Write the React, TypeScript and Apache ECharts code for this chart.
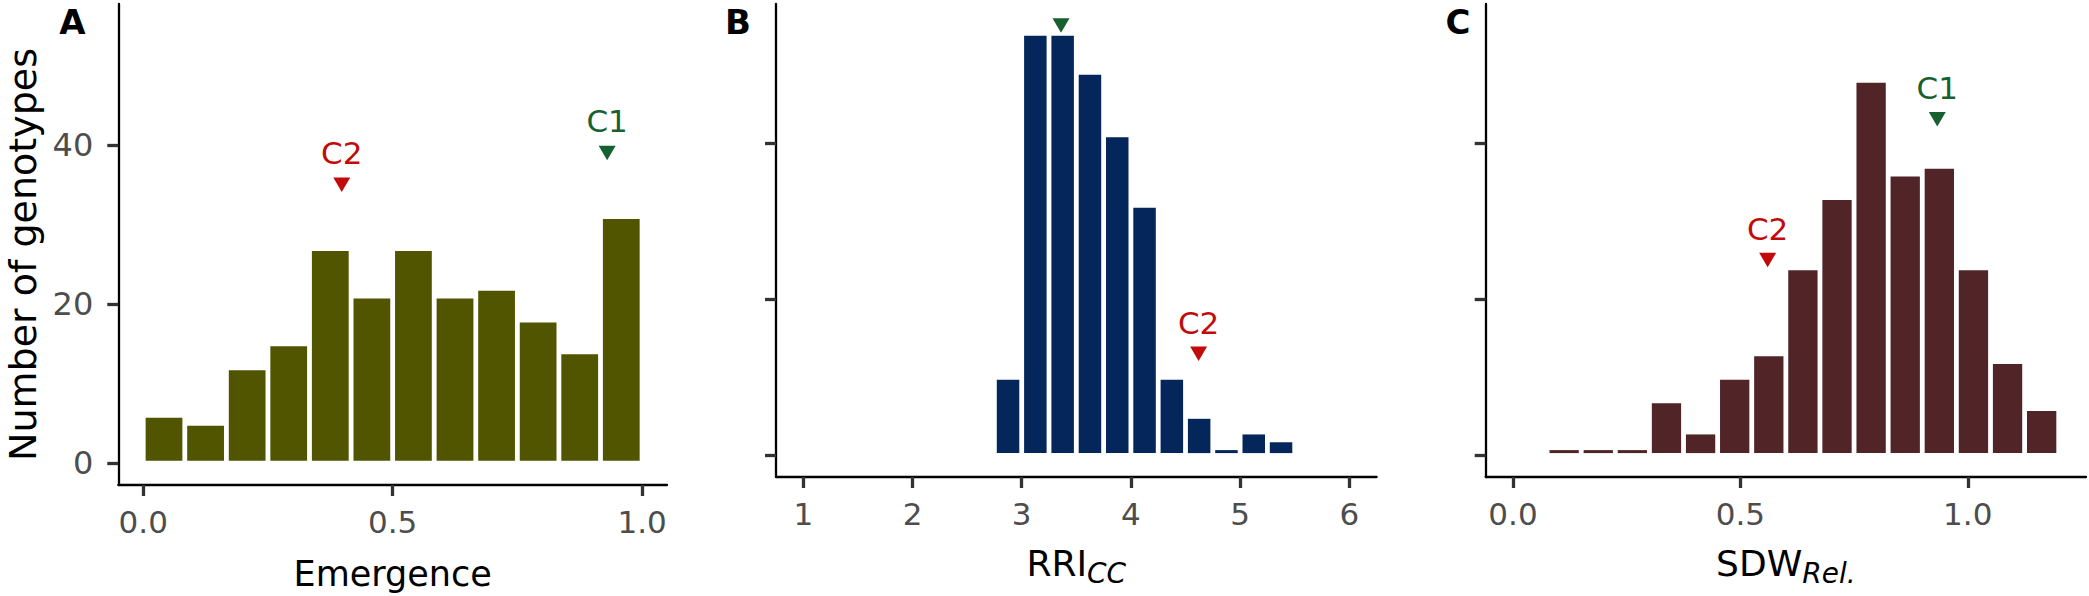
import React, { useEffect, useRef } from "react";
import * as echarts from "echarts";

// ---- data ----
const emergenceEdges = [0, 0.0833, 0.1667, 0.25, 0.3333, 0.4167, 0.5, 0.5833, 0.6667, 0.75, 0.8333, 0.9167, 1.0];
const emergenceCounts = [6, 5, 12, 15, 27, 21, 27, 21, 22, 18, 14, 31];

const rriEdges = [2.75, 3.0, 3.25, 3.5, 3.75, 4.0, 4.25, 4.5, 4.75, 5.0, 5.25, 5.5];
const rriCounts = [10, 54, 54, 49, 41, 32, 10, 5, 0, 3, 2];

const sdwEdges = [0.075, 0.15, 0.225, 0.3, 0.375, 0.45, 0.525, 0.6, 0.675, 0.75, 0.825, 0.9, 0.975, 1.05, 1.125, 1.2];
const sdwCounts = [0, 0, 0, 7, 3, 10, 13, 24, 33, 48, 36, 37, 24, 12, 6];

const markerNames = ["C1", "C2"];
const emergenceMarkers = [[0.93, 39], [0.398, 35]];
const rriMarkers = [[3.36, 55], [4.62, 13]];
const sdwMarkers = [[0.933, 43], [0.56, 25]];
const labelLift = 4;

const yTicks = [0, 20, 40];
const emergenceTicks = [0, 0.5, 1.0];
const rriTicks = [1, 2, 3, 4, 5, 6];
const sdwTicks = [0, 0.5, 1.0];
const yRange = [-2.75, 57.75];
const emergenceRange = [-0.05, 1.05];
const rriRange = [0.75, 6.25];
const sdwRange = [-0.06, 1.26];

// ---- styles ----
const FONT = "DejaVu Sans";
const markerColors = ["#17602f", "#c30a0a"];
const barColors = ["#525500", "#04265a", "#512528"];
const tickGrey = "#4d4d4d";

function histData(edges: number[], counts: number[]) {
  return counts.map((c, i) => [edges[i], edges[i + 1], c]);
}

function barSeries(idx: number, edges: number[], counts: number[], color: string) {
  return {
    type: "custom",
    xAxisIndex: idx,
    yAxisIndex: idx,
    data: histData(edges, counts),
    encode: { x: [0, 1], y: 2 },
    renderItem: (_params: any, api: any) => {
      const x0 = api.value(0);
      const x1 = api.value(1);
      const c = api.value(2);
      const pBase = api.coord([x0, 0]);
      const pTop = api.coord([x1, c]);
      const gap = 2.4;
      const left = pBase[0] + gap;
      const right = pTop[0] - gap;
      const bottom = pBase[1] - 2.4;
      let top = pTop[1] + 2.4;
      if (bottom - top < 3) top = bottom - 3;
      return {
        type: "rect",
        shape: { x: left, y: top, width: right - left, height: bottom - top },
        style: { fill: color },
      };
    },
  };
}

function markerSeries(idx: number, markers: number[][]) {
  return {
    type: "scatter",
    xAxisIndex: idx,
    yAxisIndex: idx,
    symbol: "triangle",
    symbolRotate: 180,
    symbolSize: [17, 14.5],
    clip: true,
    data: markers.map((m, i) => ({ value: m, itemStyle: { color: markerColors[i], opacity: 1 } })),
    z: 5,
  };
}

function markerLabelSeries(idx: number, markers: number[][]) {
  return {
    type: "scatter",
    xAxisIndex: idx,
    yAxisIndex: idx,
    symbolSize: 1,
    clip: true,
    itemStyle: { color: "rgba(0,0,0,0)", opacity: 1 },
    data: markers.map((m, i) => ({
      value: [m[0], m[1] + labelLift],
      name: markerNames[i],
      label: {
        show: true,
        position: "inside",
        formatter: markerNames[i],
        color: markerColors[i],
        opacity: 1,
        fontFamily: FONT,
        fontSize: 31,
      },
    })),
    z: 6,
  };
}

function xAxis(idx: number, range: number[], ticks: number[], name: any, gap: number, fmt: (v: number) => string, rich?: any) {
  return {
    type: "value",
    gridIndex: idx,
    min: range[0],
    max: range[1],
    axisLine: { show: true, onZero: false, lineStyle: { color: "#000", width: 2.3 } },
    axisTick: { show: true, customValues: ticks, length: 11, lineStyle: { color: "#333", width: 3.3 } },
    axisLabel: {
      show: true,
      customValues: ticks,
      formatter: (v: number) => fmt(v),
      margin: 21,
      color: tickGrey,
      fontFamily: FONT,
      fontSize: 31,
    },
    splitLine: { show: false },
    name,
    nameLocation: "middle",
    nameGap: gap,
    nameTextStyle: { color: "#000", fontFamily: FONT, fontSize: 35, rich },
  };
}

function yAxis(idx: number, showLabels: boolean) {
  return {
    type: "value",
    gridIndex: idx,
    min: yRange[0],
    max: yRange[1],
    axisLine: { show: true, onZero: false, lineStyle: { color: "#000", width: 2.3 } },
    axisTick: { show: true, customValues: yTicks, length: 11, lineStyle: { color: "#333", width: 3.3 } },
    axisLabel: {
      show: showLabels,
      customValues: yTicks,
      margin: 25,
      color: tickGrey,
      fontFamily: FONT,
      fontSize: 32,
    },
    splitLine: { show: false },
    ...(showLabels
      ? {
          name: "Number of genotypes",
          nameLocation: "middle",
          nameGap: 76,
          nameTextStyle: { color: "#000", fontFamily: FONT, fontSize: 38, padding: [0, 20, 0, 0] },
        }
      : {}),
  };
}

const subRich = {
  m: { fontFamily: FONT, fontSize: 36, lineHeight: 40, color: "#000" },
  s: { fontFamily: FONT, fontSize: 28, fontStyle: "italic", lineHeight: 40, padding: [20, 0, 0, 0], color: "#000" },
};

function panelLetter(text: string, x: number) {
  return {
    type: "text",
    x,
    y: 22,
    style: {
      text,
      fill: "#000",
      font: `bold 34px "${FONT}"`,
      textAlign: "center",
      textVerticalAlign: "middle",
    },
  };
}

export default function App() {
  const ref = useRef<HTMLDivElement>(null);

  useEffect(() => {
    document.body.style.margin = "0";
    if (!ref.current) return;
    const chart = echarts.init(ref.current, null, { renderer: "svg" });
    const option = {
      animation: false,
      backgroundColor: "#fff",
      grid: [
        { left: 118.3, top: 4, width: 548.7, height: 481 },
        { left: 776, top: 4, width: 600.6, height: 473 },
        { left: 1485.7, top: 4, width: 600.3, height: 473 },
      ],
      xAxis: [
        xAxis(0, emergenceRange, emergenceTicks, "Emergence", 71, (v) => v.toFixed(1)),
        xAxis(1, rriRange, rriTicks, "{m|RRI}{s|CC}", 66, (v) => String(v), subRich),
        xAxis(2, sdwRange, sdwTicks, "{m|SDW}{s|Rel.}", 66, (v) => v.toFixed(1), subRich),
      ],
      yAxis: [yAxis(0, true), yAxis(1, false), yAxis(2, false)],
      series: [
        barSeries(0, emergenceEdges, emergenceCounts, barColors[0]),
        barSeries(1, rriEdges, rriCounts, barColors[1]),
        barSeries(2, sdwEdges, sdwCounts, barColors[2]),
        markerSeries(0, emergenceMarkers),
        markerSeries(1, rriMarkers),
        markerSeries(2, sdwMarkers),
        markerLabelSeries(0, emergenceMarkers),
        markerLabelSeries(1, rriMarkers),
        markerLabelSeries(2, sdwMarkers),
      ],
      graphic: [panelLetter("A", 72.5), panelLetter("B", 738), panelLetter("C", 1458)],
    };
    chart.setOption(option as any);
    return () => chart.dispose();
  }, []);

  return <div ref={ref} style={{ width: 2089, height: 596 }} />;
}
